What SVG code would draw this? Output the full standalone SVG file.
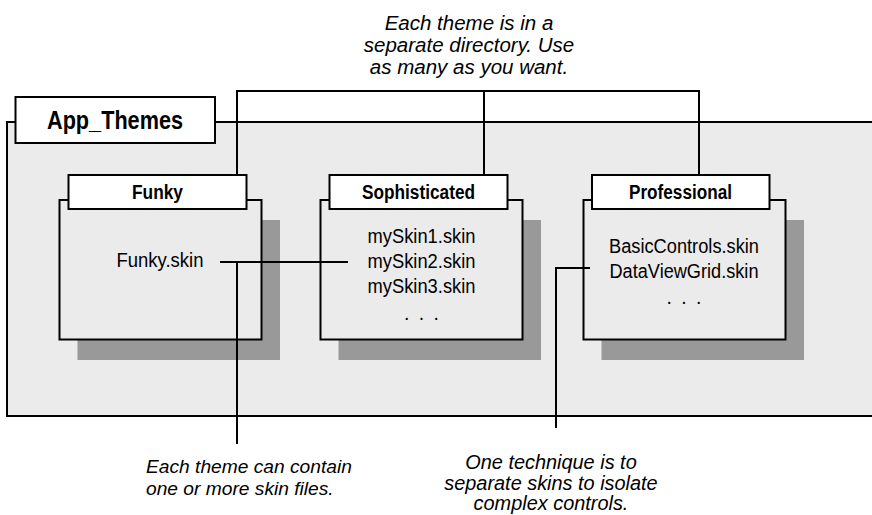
<svg xmlns="http://www.w3.org/2000/svg" width="872" height="515" viewBox="0 0 872 515">
<style>
.bg{fill:#ebebeb;stroke:#000;stroke-width:2}
.shadow{fill:#999999}
.body{fill:#ebebeb;stroke:#000;stroke-width:2}
.hdr{fill:#fff;stroke:#000;stroke-width:2}
.line{fill:none;stroke:#000;stroke-width:2}
.t{font-family:"Liberation Sans",Arial,sans-serif;fill:#000;text-anchor:middle}
.s{text-anchor:start}
.b{font-weight:bold;font-size:19.5px}
.r{font-size:19.5px}
.i{font-style:italic;font-size:20.5px}
.il{font-style:italic;font-size:19.2px}
.ir{font-style:italic;font-size:19.9px}
</style>
<rect width="872" height="515" fill="#fff"/>
<g id="app-themes-area">
<rect class="bg" x="7" y="122" width="900" height="294"/>
</g>
<g id="app-themes">
<rect class="hdr" x="15.5" y="97" width="199.5" height="46"/>
<text class="t" x="115" y="129" font-size="25" font-weight="bold" textLength="136" lengthAdjust="spacingAndGlyphs">App_Themes</text>
</g>
<g id="funky">
<rect class="shadow" x="77.5" y="220" width="202.5" height="140"/>
<rect class="body" x="59.5" y="200" width="202" height="139.5"/>
<rect class="hdr" x="68.5" y="175" width="178" height="34"/>
<text class="t b" x="157.5" y="199" textLength="51" lengthAdjust="spacingAndGlyphs">Funky</text>
<text class="t r" x="160" y="267" textLength="87" lengthAdjust="spacingAndGlyphs">Funky.skin</text>
</g>
<g id="sophisticated">
<rect class="shadow" x="338.5" y="220" width="202.5" height="140"/>
<rect class="body" x="320.5" y="200" width="202" height="139.5"/>
<rect class="hdr" x="329.5" y="175" width="178" height="34"/>
<text class="t b" x="418.5" y="199" textLength="113" lengthAdjust="spacingAndGlyphs">Sophisticated</text>
<text class="t r" x="421.5" y="243" textLength="108" lengthAdjust="spacingAndGlyphs">mySkin1.skin</text>
<text class="t r" x="421.5" y="268" textLength="108" lengthAdjust="spacingAndGlyphs">mySkin2.skin</text>
<text class="t r" x="421.5" y="293" textLength="108" lengthAdjust="spacingAndGlyphs">mySkin3.skin</text>
<text class="t r" x="421.5" y="320" word-spacing="4">. . .</text>
</g>
<g id="professional">
<rect class="shadow" x="601.5" y="220" width="202.5" height="140"/>
<rect class="body" x="583.5" y="200" width="202" height="139.5"/>
<rect class="hdr" x="592" y="175" width="177.5" height="34"/>
<text class="t b" x="680.5" y="199" textLength="103" lengthAdjust="spacingAndGlyphs">Professional</text>
<text class="t r" x="684" y="253" textLength="150" lengthAdjust="spacingAndGlyphs">BasicControls.skin</text>
<text class="t r" x="684" y="277.5" textLength="149" lengthAdjust="spacingAndGlyphs">DataViewGrid.skin</text>
<text class="t r" x="684" y="304" word-spacing="4">. . .</text>
</g>
<g id="connectors">
<path class="line" d="M237,175 V91 H699 V175 M484,91 V175"/>
<path class="line" d="M220,262 H348 M237,262 V444"/>
<path class="line" d="M590,268 H556 V428"/>
</g>
<g id="notes">
<text class="t i" x="469" y="29.5">Each theme is in a</text>
<text class="t i" x="469" y="51.5">separate directory. Use</text>
<text class="t i" x="469" y="73.5">as many as you want.</text>
<text class="t il s" x="146" y="473">Each theme can contain</text>
<text class="t il s" x="146" y="495">one or more skin files.</text>
<text class="t ir" x="551" y="469">One technique is to</text>
<text class="t ir" x="551" y="490">separate skins to isolate</text>
<text class="t ir" x="551" y="510">complex controls.</text>
</g>
</svg>
